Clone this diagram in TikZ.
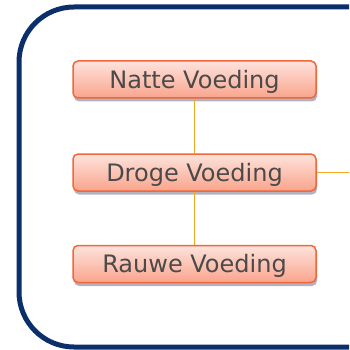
\documentclass[tikz,border=0pt]{standalone}
\usepackage{fontspec}
\setmainfont{DejaVu Sans}
\usetikzlibrary{shadows}
\definecolor{frameblue}{HTML}{0B2F6B}
\definecolor{boxedge}{HTML}{F0673A}
\definecolor{boxtop}{HTML}{FDE3DC}
\definecolor{boxbottom}{HTML}{FAA48C}
\definecolor{linkline}{HTML}{F5A623}
\definecolor{textgray}{HTML}{4A4A4A}
\tikzset{
  x=1pt, y=-1pt,
  feedbox/.style={draw=boxedge, line width=1.5pt, rounded corners=5pt,
    top color=boxtop, bottom color=boxbottom,
    minimum width=243pt, minimum height=37pt, inner sep=0pt,
    text height=19pt, text depth=1.5pt,
    text=textgray, font=\fontsize{24pt}{28pt}\selectfont,
    drop shadow={shadow xshift=1pt, shadow yshift=-3.5pt, opacity=0.3, fill=black!80!blue}},
  link/.style={draw=linkline, line width=1.6pt}
}
\begin{document}
\begin{tikzpicture}
\useasboundingbox (0,0) rectangle (349,350);
\begin{scope}
\clip (0,0) rectangle (349,350);
\draw[frameblue, line width=5pt, rounded corners=55pt] (19,7) rectangle (420,347);
\end{scope}
\node[feedbox] (natte) at (194.5,79.5) {Natte Voeding};
\node[feedbox] (droge) at (194.5,172.5) {Droge Voeding};
\node[feedbox] (rauwe) at (194.5,264) {Rauwe Voeding};
\coordinate (rechts) at (349,172.5);
\draw[link] (natte.south) -- (droge.north);
\draw[link] (droge.south) -- (rauwe.north);
\draw[link] (droge.east) -- (rechts);
\end{tikzpicture}
\end{document}
